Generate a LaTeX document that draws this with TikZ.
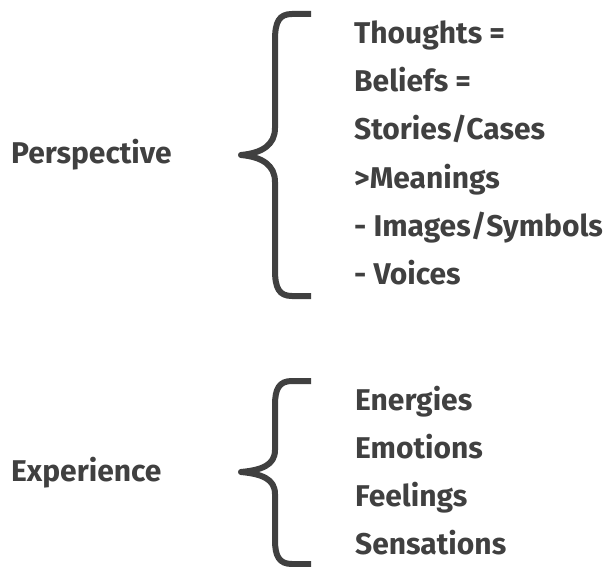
\documentclass[tikz,border=0pt]{standalone}
\usepackage{fontspec}
\setmainfont{Fira Sans}
\definecolor{ink}{HTML}{404040}
\begin{document}
\begin{tikzpicture}[x=1pt,y=-1pt,
  lbl/.style={anchor=base west,inner sep=0pt,text=ink,font=\fontsize{30}{30}\selectfont\bfseries},
  brace/.style={draw=ink,line width=6pt,line cap=butt,line join=round}]
\useasboundingbox (0,0) rectangle (605,567);
% top group
\node[lbl] (persp) at (11,164) {Perspective};
\draw[brace] (311,14) -- (292,14) .. controls (279,14) and (275,22) .. (275,40)
  -- (275,128) .. controls (275,145) and (262,153) .. (241,155)
  .. controls (262,157) and (275,165) .. (275,182)
  -- (275,270) .. controls (275,288) and (279,296) .. (292,296) -- (311,296);
\node[lbl] (t1) at (354,44) {Thoughts =};
\node[lbl] (t2) at (354,92) {Beliefs =};
\node[lbl] (t3) at (354,140) {Stories/Cases};
\node[lbl] (t4) at (354,188) {>Meanings};
\node[lbl] (t5) at (354,236) {- Images/Symbols};
\node[lbl] (t6) at (354,284) {- Voices};
% bottom group
\node[lbl] (exper) at (11,481) {Experience};
\draw[brace] (311,381) -- (292,381) .. controls (279,381) and (275,389) .. (275,405)
  -- (275,450) .. controls (275,465) and (262,470) .. (241,472)
  .. controls (262,474) and (275,479) .. (275,494)
  -- (275,540) .. controls (275,556) and (279,564) .. (292,564) -- (311,564);
\node[lbl] (e1) at (355,410) {Energies};
\node[lbl] (e2) at (355,458) {Emotions};
\node[lbl] (e3) at (355,506) {Feelings};
\node[lbl] (e4) at (355,554) {Sensations};
\end{tikzpicture}
\end{document}
